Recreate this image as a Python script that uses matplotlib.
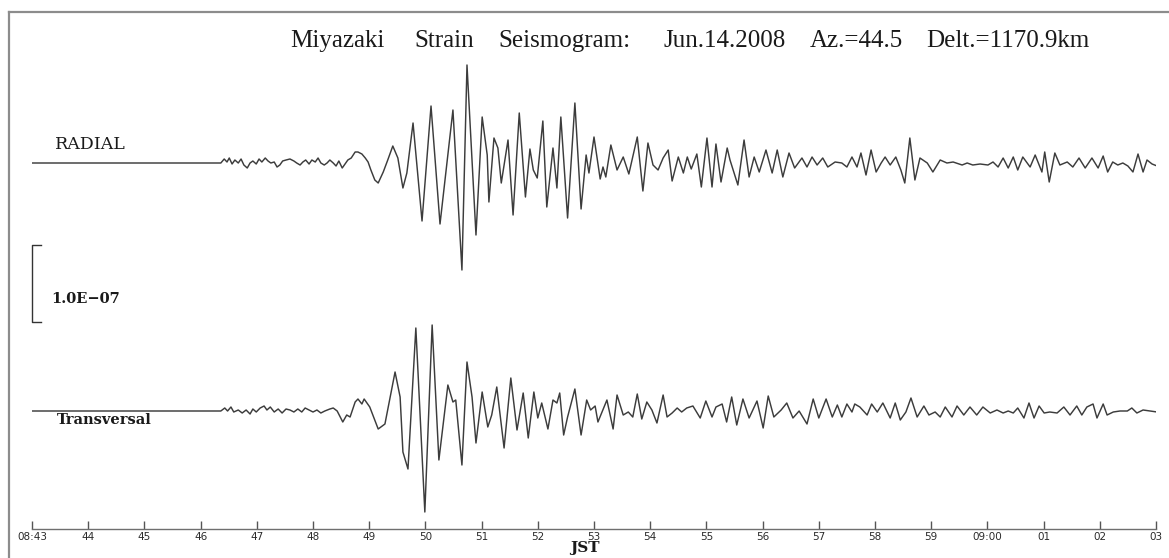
import matplotlib
matplotlib.use("Agg")
import matplotlib.pyplot as plt
from matplotlib.lines import Line2D

# time axis: minutes after 08:00 JST, amplitude in units of 1e-9 strain
TICK_MINUTES = list(range(43, 64))
TICK_LABELS = ["08:43", "44", "45", "46", "47", "48", "49", "50", "51", "52", "53",
               "54", "55", "56", "57", "58", "59", "09:00", "01", "02", "03"]

SCALE_BAR = 100.0   # 1.0E-07 expressed in 1e-9 units

RADIAL_T = [
    43.00, 46.36, 46.42, 46.47, 46.51, 46.56, 46.61, 46.67, 46.72, 46.77, 46.83, 46.88, 46.93, 46.99,
    47.04, 47.09, 47.15, 47.20, 47.25, 47.31, 47.36, 47.41, 47.46, 47.52, 47.59, 47.66, 47.71, 47.77, 47.82, 47.87, 47.93, 47.98,
    48.04, 48.09, 48.14, 48.20, 48.25, 48.30, 48.36, 48.41, 48.46, 48.52, 48.57, 48.62, 48.68, 48.75, 48.80, 48.87, 48.93, 48.98,
    49.03, 49.10, 49.16, 49.25, 49.33, 49.42, 49.51, 49.60, 49.67, 49.78, 49.94,
    50.10, 50.26, 50.49, 50.65, 50.74, 50.90,
    51.01, 51.10, 51.13, 51.22, 51.29, 51.35, 51.47, 51.56, 51.67, 51.78, 51.86, 51.92, 51.99,
    52.09, 52.16, 52.27, 52.34, 52.41, 52.53, 52.66, 52.77, 52.86, 52.91,
    53.00, 53.11, 53.16, 53.21, 53.30, 53.41, 53.52, 53.62, 53.77, 53.87, 53.96,
    54.05, 54.14, 54.23, 54.32, 54.39, 54.50, 54.59, 54.66, 54.73, 54.83, 54.91,
    55.01, 55.10, 55.17, 55.26, 55.37, 55.42, 55.56, 55.67, 55.76, 55.85, 55.94,
    56.06, 56.17, 56.26, 56.36, 56.47, 56.57, 56.70, 56.79, 56.88, 56.97,
    57.07, 57.16, 57.29, 57.41, 57.50, 57.59, 57.68, 57.75, 57.84, 57.93,
    58.02, 58.11, 58.18, 58.27, 58.37, 58.46, 58.53, 58.62, 58.71, 58.80, 58.93,
    59.03, 59.16, 59.28, 59.39, 59.55, 59.64, 59.74, 59.87,
    60.01, 60.10, 60.19, 60.28, 60.37, 60.46, 60.54, 60.63, 60.76, 60.85, 60.97,
    61.02, 61.10, 61.20, 61.29, 61.42, 61.52, 61.63, 61.74, 61.86, 61.97,
    62.06, 62.14, 62.23, 62.32, 62.41, 62.50, 62.59, 62.68, 62.77, 62.84, 62.93, 63.02,
]
RADIAL_A = [
    0, 0, 5.2, 1.3, 6.5, -1.3, 3.9, 0, 5.2, -2.6, -6.5, 0, 2.6, -1.3,
    5.2, 1.3, 6.5, 2.6, 0, 1.3, -5.2, -2.6, 2.6, 3.9, 5.2, 2.6, 0, -2.6, 1.3, 3.9, -1.3, 3.9,
    1.3, 6.5, 0, -2.6, 0, 3.9, 0, -3.9, 2.6, -6.5, -1.3, 3.9, 6.5, 14.3, 14.3, 11.7, 6.5, 1.3,
    -9.1, -22.1, -26.0, -11.7, 3.9, 22.1, 6.5, -32.5, -13.0, 52.0, -75.4,
    74.1, -79.3, 68.9, -139.1, 127.4, -93.6,
    59.8, 10.4, -50.7, 32.5, 19.5, -26.0, 29.9, -67.6, 65.0, -44.2, 18.2, -9.1, -19.5,
    54.6, -57.2, 19.5, -32.5, 59.8, -71.5, 78.0, -59.8, 10.4, -13.0,
    33.8, -20.8, -5.2, -18.2, 23.4, -9.1, 7.8, -14.3, 33.8, -36.4, 26.0,
    -2.6, -9.1, 6.5, 16.9, -23.4, 7.8, -13.0, 7.8, -7.8, 11.7, -31.2,
    32.5, -31.2, 24.7, -24.7, 19.5, 3.9, -28.6, 29.9, -18.2, 7.8, -11.7,
    16.9, -13.0, 16.9, -18.2, 13.0, -6.5, 6.5, -5.2, 7.8, -2.6,
    6.5, -5.2, 1.3, 0, -5.2, 7.8, -5.2, 13.0, -15.6, 16.9,
    -11.7, 0, 7.8, -2.6, 7.8, -9.1, -26.0, 32.5, -22.1, 6.5, 0,
    -11.7, 3.9, 0, 1.3, -2.6, 0, -2.6, -1.3,
    -2.6, 1.3, -5.2, 6.5, -6.5, 7.8, -9.1, 7.8, -5.2, 10.4, -11.7,
    14.3, -24.7, 13.0, -2.6, 1.3, -5.2, 6.5, -6.5, 6.5, -6.5,
    9.1, -11.7, 1.3, -2.6, 0, -3.9, -11.7, 11.7, -11.7, 3.9, -1.3, -3.9,
]

TRANS_T = [
    43.00, 46.36, 46.43, 46.48, 46.54, 46.59, 46.67, 46.74, 46.81, 46.88, 46.93, 46.99,
    47.06, 47.13, 47.18, 47.24, 47.31, 47.38, 47.45, 47.52, 47.59, 47.66, 47.73, 47.80, 47.86, 47.93,
    48.00, 48.07, 48.14, 48.21, 48.30, 48.36, 48.43, 48.53, 48.60, 48.66, 48.75, 48.80, 48.87, 48.91,
    49.01, 49.16, 49.28, 49.46, 49.55, 49.60, 49.69, 49.83, 49.99,
    50.12, 50.24, 50.40, 50.49, 50.54, 50.65, 50.74, 50.83, 50.90,
    51.01, 51.11, 51.18, 51.27, 51.40, 51.52, 51.63, 51.74, 51.83, 51.93,
    52.00, 52.07, 52.18, 52.27, 52.34, 52.39, 52.46, 52.53, 52.66, 52.77, 52.87, 52.94,
    53.02, 53.07, 53.23, 53.34, 53.41, 53.52, 53.61, 53.69, 53.77, 53.85, 53.94,
    54.03, 54.12, 54.23, 54.30, 54.39, 54.48, 54.56, 54.65, 54.76, 54.89, 54.99,
    55.10, 55.17, 55.28, 55.36, 55.45, 55.54, 55.65, 55.76, 55.90,
    56.01, 56.10, 56.20, 56.33, 56.43, 56.54, 56.65, 56.79, 56.90,
    57.00, 57.13, 57.24, 57.33, 57.41, 57.50, 57.59, 57.64, 57.73, 57.86, 57.94,
    58.04, 58.14, 58.27, 58.36, 58.45, 58.55, 58.64, 58.75, 58.87, 58.96,
    59.07, 59.16, 59.25, 59.37, 59.46, 59.58, 59.69, 59.81, 59.92,
    60.05, 60.17, 60.28, 60.37, 60.46, 60.54, 60.65, 60.74, 60.83, 60.92,
    61.01, 61.11, 61.24, 61.36, 61.47, 61.59, 61.68, 61.77, 61.88, 61.95,
    62.06, 62.13, 62.24, 62.36, 62.49, 62.57, 62.66, 62.77, 62.89, 63.02,
]
TRANS_A = [
    0, 0, 3.9, 0, 5.2, -1.3, 1.3, -2.6, 1.3, -3.9, 2.6, -1.3,
    3.9, 6.5, 1.3, 5.2, -1.3, 2.6, -2.6, 2.6, 1.3, -1.3, 2.6, -1.3, 3.9, 1.3,
    -1.3, 1.3, -2.6, 0, 2.6, 3.9, 0, -14.3, -5.2, -7.8, 11.7, 15.6, 9.1, 15.6,
    5.2, -23.4, -16.9, 50.7, 18.2, -53.3, -75.4, 107.9, -131.3,
    111.8, -63.7, 33.8, 11.7, 14.3, -70.2, 63.7, 18.2, -41.6,
    24.7, -20.8, -5.2, 31.2, -48.1, 42.9, -24.7, 23.4, -35.1, 24.7,
    -9.1, 10.4, -23.4, 14.3, 10.4, 23.4, -31.2, -7.8, 28.6, -31.2, 14.3, 1.3,
    6.5, -14.3, 14.3, -23.4, 20.8, -5.2, -1.3, -7.8, 22.1, -10.4, 11.7,
    1.3, -15.6, 20.8, -7.8, -2.6, 3.9, -1.3, 3.9, 6.5, -9.1, 13.0,
    -7.8, 5.2, 9.1, -14.3, 18.2, -18.2, 15.6, -9.1, 13.0,
    -22.1, 19.5, -7.8, 1.3, 10.4, -9.1, 0, -16.9, 15.6,
    -9.1, 15.6, -7.8, 7.8, -7.8, 9.1, -1.3, 9.1, 5.2, -5.2, 9.1,
    -1.3, 10.4, -9.1, 10.4, -11.7, -1.3, 16.9, -7.8, 6.5, -5.2,
    -1.3, -7.8, 5.2, -7.8, 6.5, -5.2, 5.2, -5.2, 5.2,
    -2.6, 1.3, -2.6, 0, -2.6, 3.9, -9.1, 10.4, -9.1, 6.5,
    -2.6, -1.3, -2.6, 5.2, -5.2, 6.5, -5.2, 5.2, 9.1, -9.1,
    9.1, -5.2, -1.3, 0, 0, 3.9, -2.6, 1.3, 0, -1.3,
]

# vertical placement of the two traces on the sheet
RADIAL_OFFSET = 475.8
TRANS_OFFSET = 153.4

W, H = 1169, 558
fig = plt.figure(figsize=(W / 100, H / 100), dpi=100)
fig.patch.set_facecolor("white")

ax = fig.add_axes([32 / W, 29 / H, 1124 / W, 517 / H])
ax.set_xlim(43, 63)
ax.set_ylim(0, 672.1)
ax.patch.set_alpha(0)
for side in ("top", "left", "right"):
    ax.spines[side].set_visible(False)
ax.spines["bottom"].set_color("#6f6f6f")
ax.spines["bottom"].set_linewidth(1.0)
ax.set_yticks([])
ax.set_xticks(TICK_MINUTES)
ax.set_xticklabels(TICK_LABELS, fontsize=7.5, color="#2a2a2a")
ax.tick_params(axis="x", direction="in", length=6, width=1, color="#555555", pad=2)

trace_color = "#3c3c3c"
ax.plot(RADIAL_T, [RADIAL_OFFSET + a for a in RADIAL_A], color=trace_color, lw=1.05)
ax.plot(TRANS_T, [TRANS_OFFSET + a for a in TRANS_A], color=trace_color, lw=1.05)

# amplitude scale bar
bar_top = 369.0
bar_bot = bar_top - SCALE_BAR
ax.plot([43.16, 43.0, 43.0, 43.16], [bar_top, bar_top, bar_bot, bar_bot],
        color="#333333", lw=1.0, clip_on=False)
ax.text(43.34, bar_bot + 30, "1.0E\u221207", fontsize=10.5, family="DejaVu Serif",
        fontweight="bold", va="center", ha="left", color="#1a1a1a")

ax.text(43.41, RADIAL_OFFSET + 24, "RADIAL", fontsize=12.5, family="DejaVu Serif",
        va="center", ha="left", color="#1a1a1a")
ax.text(43.44, TRANS_OFFSET - 12, "Transversal", fontsize=10.5, family="DejaVu Serif",
        fontweight="bold", va="center", ha="left", color="#1a1a1a")

fig.text(585 / W, 1 - 548 / H, "JST", fontsize=11, family="DejaVu Serif",
         fontweight="bold", ha="center", va="center", color="#1a1a1a")

# header line, word by word
title_words = [("Miyazaki", 290), ("Strain", 414), ("Seismogram:", 498),
               ("Jun.14.2008", 664), ("Az.=44.5", 810), ("Delt.=1170.9km", 926)]
for word, xpix in title_words:
    fig.text(xpix / W, 1 - 47 / H, word, fontsize=18, family="Liberation Serif",
             ha="left", va="baseline", color="#1a1a1a")

# sheet border (left and top edges)
frame_kw = dict(color="#8c8c8c", lw=1.6, transform=fig.transFigure)
fig.add_artist(Line2D([9 / W, 9 / W], [1 - 12 / H, 0], **frame_kw))
fig.add_artist(Line2D([9 / W, 1], [1 - 12 / H, 1 - 12 / H], **frame_kw))

fig.savefig("out.png", dpi=100)
